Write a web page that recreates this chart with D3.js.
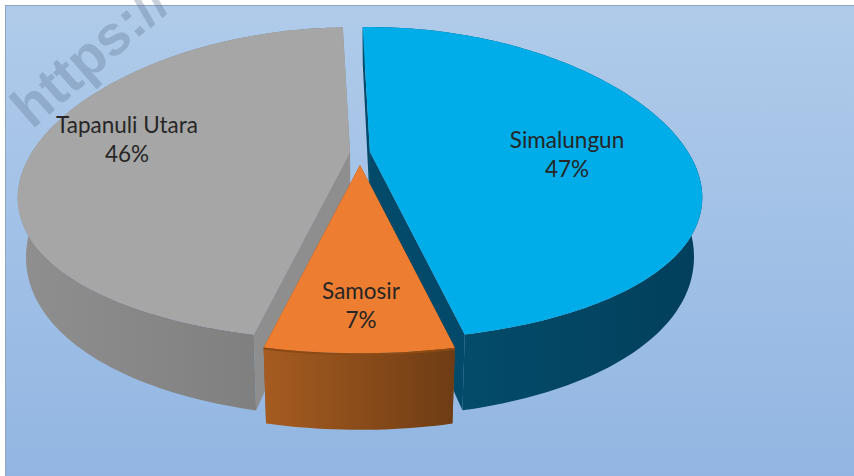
<!DOCTYPE html>
<html>
<head>
<meta charset="utf-8">
<script src="https://cdn.jsdelivr.net/npm/d3@7"></script>
<style>
html,body{margin:0;padding:0;background:#fff}
svg{display:block}
text{font-family:Lato,"Open Sans",sans-serif}
</style>
</head>
<body>
<svg id="chart" width="854" height="476"></svg>
<script>
const categories = ["Simalungun", "Samosir", "Tapanuli Utara"];
const percents = [47, 7, 46];

const topColors = ["#00ade9", "#ed7d31", "#a6a6a6"];
const cutColors = ["#034a6a", "#8a4a1c", "#8e8e8e"];
const wallStops = [
  ["#04516f", "#023f5c"],
  ["#a65c20", "#6e3c14"],
  ["#8f8f8f", "#7a7a7a"]
];
const explode = [10, 12, 10];
const labelAnchors = [[567, 140], [361, 291], [127, 125]];

const W = 854, H = 476;
const cx = 360, cy = 153, R = 318, Ry = 150, k = 4.92, xPersp = 1.45;
const wallH = 54, bottomScale = 0.975, bottomRy = 157, rotation = -1.7 * Math.PI / 180;

const svg = d3.select("#chart");
const defs = svg.append("defs");

const bg = defs.append("linearGradient").attr("id", "bg").attr("x1", 0).attr("y1", 0).attr("x2", 0).attr("y2", 1);
bg.append("stop").attr("offset", "0%").attr("stop-color", "#b0cbea");
bg.append("stop").attr("offset", "100%").attr("stop-color", "#92b6e2");

svg.append("rect").attr("x", 5.5).attr("y", 5.5).attr("width", W).attr("height", H)
  .attr("fill", "url(#bg)").attr("stroke", "#8ea6c6").attr("stroke-width", 1);

const pie = d3.pie().sort(null).startAngle(rotation).endAngle(2 * Math.PI + rotation);
const arcs = pie(percents);

function project(a, r, lower, o) {
  const u = Math.sin(a) * r, v = -Math.cos(a) * r;
  const p = k / (k - v), px = Math.pow(p, xPersp);
  if (!lower) return [cx + o[0] + R * u * px, cy + o[1] + Ry * v * p];
  return [cx + o[0] + R * bottomScale * u * px, cy + o[1] + (bottomRy * v + wallH) * p];
}
const line = d3.line();

function arcPts(a0, a1, lower, o) {
  const n = Math.max(8, Math.ceil((a1 - a0) / 0.02));
  return d3.range(n + 1).map(i => project(a0 + (a1 - a0) * i / n, 1, lower, o));
}

arcs.forEach((d, i) => {
  const mid = (d.startAngle + d.endAngle) / 2;
  d.offset = [explode[i] * Math.sin(mid), -explode[i] * Math.cos(mid)];
  const g = defs.append("linearGradient").attr("id", "wall" + i);
  g.append("stop").attr("offset", "0%").attr("stop-color", wallStops[i][0]);
  g.append("stop").attr("offset", "100%").attr("stop-color", wallStops[i][1]);
  d.gradientId = "wall" + i;
});

const order = [2, 0, 1];
order.forEach(i => {
  const d = arcs[i], o = d.offset, g = svg.append("g").attr("class", "slice");
  const topArc = arcPts(d.startAngle, d.endAngle, false, o);
  const botArc = arcPts(d.startAngle, d.endAngle, true, o);
  const apexT = project(0, 0, false, o), apexB = project(0, 0, true, o);

  [d.startAngle, d.endAngle].forEach(a => {
    g.append("path")
      .attr("d", line([apexT, project(a, 1, false, o), project(a, 1, true, o), apexB]) + "Z")
      .attr("fill", cutColors[i]);
  });
  g.append("path")
    .attr("d", line(topArc.concat(botArc.slice().reverse())) + "Z")
    .attr("fill", "url(#" + d.gradientId + ")");
  g.append("path")
    .attr("d", line([apexT].concat(topArc)) + "Z")
    .attr("fill", topColors[i]);
});

const oArc = arcs[1];
svg.append("path")
  .attr("d", line(arcPts(oArc.startAngle, oArc.endAngle, false, oArc.offset)))
  .attr("fill", "none").attr("stroke", "#8c4a14").attr("stroke-width", 2)
  .attr("transform", "translate(0,1)");

const labels = svg.append("g");
arcs.forEach((d, i) => {
  const t = labels.append("text").attr("text-anchor", "middle")
    .attr("font-size", 22.5).attr("fill", "#262626");
  t.append("tspan").attr("x", labelAnchors[i][0]).attr("y", labelAnchors[i][1] + 8).text(categories[i]);
  t.append("tspan").attr("x", labelAnchors[i][0]).attr("y", labelAnchors[i][1] + 37).text(percents[i] + "%");
});

svg.append("text").attr("transform", "translate(32,130) rotate(-41)")
  .attr("font-size", 56).attr("font-weight", "bold")
  .attr("style", "font-family:'Liberation Sans',sans-serif")
  .attr("fill", "#5a6f8e").attr("fill-opacity", 0.32).text("https://");
</script>
</body>
</html>
